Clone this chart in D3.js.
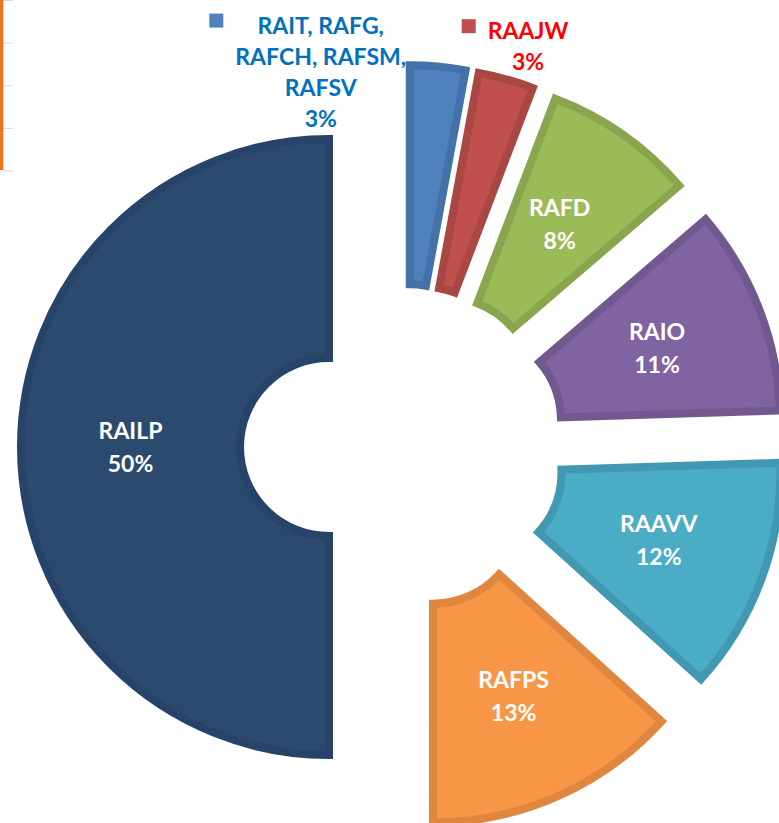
<!DOCTYPE html>
<html>
<head>
    <meta charset="utf-8">
    <title>Exploded donut</title>
    <style>
        html, body { margin: 0; padding: 0; background: #fff; }
        svg { display: block; }
        text { font-family: Lato, "Open Sans", sans-serif; font-weight: bold; }
    </style>
</head>
<body>
    <script src="https://cdn.jsdelivr.net/npm/d3@7/dist/d3.min.js"></script>
    <script>
        // slices, clockwise from 12 o'clock
        var categories = ["RAIT, RAFG, RAFCH, RAFSM, RAFSV", "RAAJW", "RAFD", "RAIO", "RAAVV", "RAFPS", "RAILP"];
        var values = [2.9, 2.9, 7.9, 10.8, 12.2, 13.3, 50.0];
        var pctLabels = ["3%", "3%", "8%", "11%", "12%", "13%", "50%"];
        var fills = ["#4f81bd", "#c0504d", "#9bbb59", "#8064a2", "#4bacc6", "#f79646", "#2c4a6e"];
        var borders = ["#4472a8", "#a94744", "#89a64f", "#71598f", "#4298b0", "#df863f", "#28436a"];
        // first two slices get their label outside, with a legend key
        var outsideLines = [["RAIT, RAFG,", "RAFCH, RAFSM,", "RAFSV"], ["RAAJW"]];
        var outsideColors = ["#0070c0", "#ff0000"];
        // bits of a neighbouring chart's axis peeking in at the left edge
        var strayTicks = [0, 1, 2, 3, 4];

        var width = 779, height = 823;
        var cx = 403, cy = 447, explode = 74;
        var rOuter = 308, rInner = 89;

        var svg = d3.select("body").append("svg")
            .attr("width", width)
            .attr("height", height);

        // stray axis
        var ty = d3.scaleLinear().domain([0, 4]).range([0.5, 171]);
        svg.append("g").selectAll("line")
            .data(strayTicks)
            .enter().append("line")
            .attr("x1", 3).attr("x2", 13)
            .attr("y1", function(d) { return ty(d); })
            .attr("y2", function(d) { return ty(d); })
            .attr("stroke", "#d9d9d9").attr("stroke-width", 1);
        svg.append("line")
            .attr("x1", 1.7).attr("x2", 1.7)
            .attr("y1", ty(0) - 0.5).attr("y2", ty(4) - 1)
            .attr("stroke", "#e8771f").attr("stroke-width", 3.4);

        var pie = d3.pie().sort(null).value(function(d) { return d; });
        var arcs = pie(values);

        var arc = d3.arc().innerRadius(rInner).outerRadius(rOuter);

        function shift(d) {
            var m = (d.startAngle + d.endAngle) / 2;
            return [cx + explode * Math.sin(m), cy - explode * Math.cos(m)];
        }

        var slices = svg.append("g").selectAll("g")
            .data(arcs)
            .enter().append("g")
            .attr("transform", function(d) { return "translate(" + shift(d) + ")"; });

        slices.append("path")
            .attr("d", arc)
            .attr("fill", function(d, i) { return fills[i]; })
            .attr("stroke", function(d, i) { return borders[i]; })
            .attr("stroke-width", 8)
            .attr("stroke-linejoin", "miter");

        // labels inside the slices
        slices.filter(function(d, i) { return i >= 2; })
            .each(function(d) {
                var c = arc.centroid(d);
                var t = d3.select(this).append("text")
                    .attr("text-anchor", "middle")
                    .attr("fill", "#fff")
                    .style("font-size", "23px");
                t.append("tspan").attr("x", c[0]).attr("y", c[1] - 16.5)
                    .attr("dy", "0.35em").text(categories[d.index]);
                t.append("tspan").attr("x", c[0]).attr("y", c[1] + 16.5)
                    .attr("dy", "0.35em").text(pctLabels[d.index]);
            });

        // outside labels: offset from the outer edge at mid angle
        var outsideOffset = [[-117, -41], [22, -48]];
        var lineGap = 31;
        arcs.slice(0, 2).forEach(function(d, i) {
            var s = shift(d);
            var m = (d.startAngle + d.endAngle) / 2;
            var ax = s[0] + rOuter * Math.sin(m) + outsideOffset[i][0];
            var ay = s[1] - rOuter * Math.cos(m) + outsideOffset[i][1];
            var lines = outsideLines[i].concat([pctLabels[i]]);
            var g = svg.append("g");
            var t = g.append("text")
                .attr("text-anchor", "middle")
                .attr("fill", outsideColors[i])
                .style("font-size", "23px");
            lines.forEach(function(l, k) {
                t.append("tspan").attr("x", ax).attr("y", ay + k * lineGap)
                    .attr("dy", "0.35em").text(l);
            });
            var maxW = 0;
            t.selectAll("tspan").each(function() {
                maxW = Math.max(maxW, this.getComputedTextLength());
            });
            g.append("rect")
                .attr("x", ax - maxW / 2 - 12 - 14)
                .attr("y", ay - 7 - 5)
                .attr("width", 14).attr("height", 14)
                .attr("fill", fills[i]);
        });
    </script>
</body>
</html>
